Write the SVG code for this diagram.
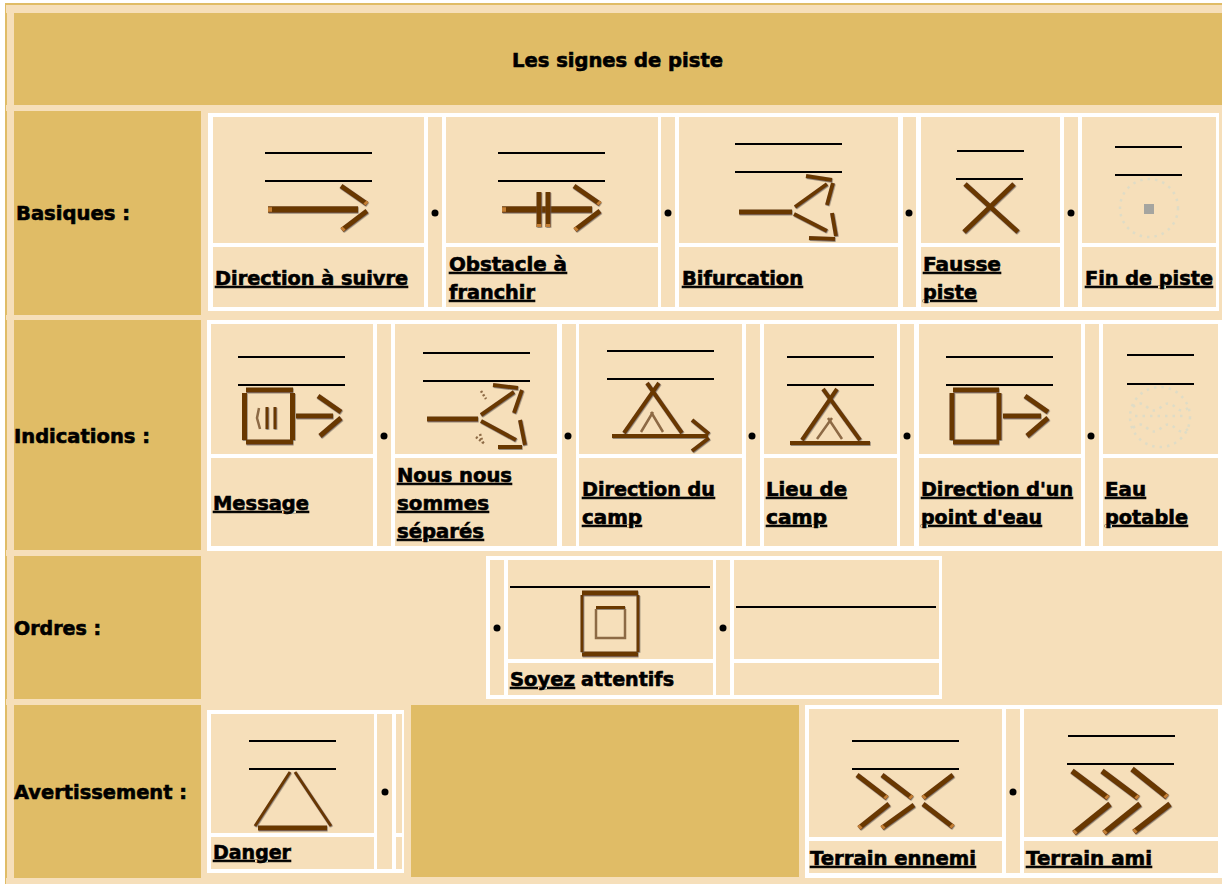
<svg xmlns="http://www.w3.org/2000/svg" width="1222" height="884" viewBox="0 0 1222 884">
<defs>
<filter id="sh" filterUnits="userSpaceOnUse" x="0" y="0" width="1222" height="884"><feDropShadow dx="0.6" dy="0.8" stdDeviation="0.5" flood-color="#6b6258" flood-opacity="0.85"/></filter>
</defs>
<style>
.bg{fill:#f6dfba}
.hd{fill:#e0bc66}
.w{fill:#fff}
.c{fill:#f6dfba}
.t{font-family:"DejaVu Sans",sans-serif;font-weight:bold;font-size:19px;fill:#000;stroke:#000;stroke-width:.6}
.l{text-decoration:underline}
.r{stroke:#000;stroke-width:2;fill:none}
.k{stroke:#693806;stroke-width:5;fill:none;stroke-linecap:butt;filter:url(#sh)}
.k6{stroke-width:6.500}
.k3{stroke-width:4}
.k2{stroke-width:3}
.p{stroke:#8d6a45;stroke-width:2.500;fill:none}
.o{stroke:#c47f35;stroke-width:4.500;fill:none}
.d{fill:#000}
.dot{fill:none;stroke:#dfdcc6;stroke-width:2.500;stroke-dasharray:2.500 5}
</style>
<rect class="w" width="1222" height="884"/>
<rect class="hd" x="5" y="3" width="1217" height="881"/>
<rect class="bg" x="7" y="5" width="1215" height="879"/>
<path class="bg" d="M6 5h2v8h-2zM6 105h2v6h-2zM6 315h2v5h-2zM6 550h2v6h-2zM6 699h2v6h-2zM6 878h2v6h-2z"/>
<g id="titre"><rect class="hd" x="14" y="13" width="1208" height="92"/><text class="t" x="512" y="67" textLength="211" lengthAdjust="spacingAndGlyphs">Les signes de piste</text></g>
<g id="basiques-tete"><rect class="hd" x="14" y="111" width="187" height="204"/><text class="t" x="16" y="220" textLength="114" lengthAdjust="spacingAndGlyphs">Basiques :</text></g>
<g id="indications-tete"><rect class="hd" x="14" y="320" width="187" height="230"/><text class="t" x="14" y="443" textLength="136" lengthAdjust="spacingAndGlyphs">Indications :</text></g>
<g id="ordres-tete"><rect class="hd" x="14" y="556" width="187" height="143"/><text class="t" x="14" y="635" textLength="87" lengthAdjust="spacingAndGlyphs">Ordres :</text></g>
<g id="avertissement-tete"><rect class="hd" x="14" y="705" width="187" height="173"/><text class="t" x="14" y="799" textLength="173" lengthAdjust="spacingAndGlyphs">Avertissement :</text></g>
<g id="centre-avertissement"><rect class="hd" x="411" y="705" width="388" height="172"/></g>

<g id="tables">
<rect class="w" x="208" y="113" width="1011" height="198"/>
<path class="c" d="M213 117h211v126h-211zM213 247h211v60h-211zM428 117h14v190h-14zM446 117h212v126h-212zM446 247h212v60h-212zM661 117h14v190h-14zM679 117h219v126h-219zM679 247h219v60h-219zM903 117h13v190h-13zM921 117h139v126h-139zM921 247h139v60h-139zM1064 117h14v190h-14zM1082 117h134v126h-134zM1082 247h134v60h-134z"/>
<rect class="w" x="207" y="320" width="1015" height="231"/>
<path class="c" d="M211 324h162v130h-162zM211 458h162v88h-162zM377 324h14v222h-14zM395 324h162v130h-162zM395 458h162v88h-162zM562 324h14v222h-14zM579 324h163v130h-163zM579 458h163v88h-163zM746 324h14v222h-14zM764 324h133v130h-133zM764 458h133v88h-133zM900 324h14v222h-14zM919 324h162v130h-162zM919 458h162v88h-162zM1085 324h14v222h-14zM1103 324h115v130h-115zM1103 458h115v88h-115z"/>
<rect class="w" x="486" y="556" width="456" height="143"/>
<path class="c" d="M490 560h14v135h-14zM508 560h205v99h-205zM508 663h205v32h-205zM716 560h14v135h-14zM734 560h205v99h-205zM734 663h205v32h-205z"/>
<rect class="w" x="207" y="710" width="197" height="163"/>
<path class="c" d="M211 714h163v119h-163zM211 837h163v32h-163zM377 714h15v155h-15zM396 714h6v119h-6zM396 837h6v32h-6z"/>
<rect class="w" x="805" y="705" width="417" height="173"/>
<path class="c" d="M809 709h193v128h-193zM809 841h193v32h-193zM1006 709h14v164h-14zM1024 709h194v128h-194zM1024 841h194v32h-194z"/>
</g>

<g id="direction-a-suivre">
<path class="r" d="M265 153h107M265 181h107"/>
<path class="k k6" d="M268 209.500H358"/><path class="k" d="M341 186L367 204M367 211L342 230"/>
<path class="o" d="M268 209.500h4M367 204l-2 -2M342 230l2 -2"/>
<text class="t l" x="215" y="285" textLength="193" lengthAdjust="spacingAndGlyphs">Direction à suivre</text></g>
<g id="obstacle">
<path class="r" d="M498 153h107M498 181h107"/>
<path class="k k6" d="M502 209.500H592"/><path class="k" d="M539 192V227M548 192V227M574 186L600 204M600 211L575 230"/>
<path class="o" d="M502 209.500h4M600 204l-2 -2M575 230l2 -2M539 227v-3M548 227v-3"/>
<text class="t l" x="449" y="271" textLength="118" lengthAdjust="spacingAndGlyphs">Obstacle à</text>
<text class="t l" x="449" y="299" textLength="86" lengthAdjust="spacingAndGlyphs">franchir</text></g>
<g id="bifurcation">
<path class="r" d="M735 144h107M735 172h107"/>
<path class="k" d="M739 212H792"/><path class="k k3" d="M795 207L827 184M806 176L832 180M833 183L827 205M794 214L827 231M832 213L836 236M809 238L835 239"/>
<text class="t l" x="682" y="285" textLength="121" lengthAdjust="spacingAndGlyphs">Bifurcation</text></g>
<g id="fausse-piste">
<path class="r" d="M957 151h67M956 179h67"/>
<path class="k" d="M965 184L1018 232M1014 184L964 232"/>
<text class="t l" x="923" y="271" textLength="78" lengthAdjust="spacingAndGlyphs">Fausse</text>
<text class="t l" x="923" y="299" textLength="54" lengthAdjust="spacingAndGlyphs">piste</text></g>
<g id="fin-de-piste">
<path class="r" d="M1115 147h67M1115 175h67"/>
<circle class="dot" cx="1149" cy="208" r="29"/><rect x="1144" y="204" width="10" height="10" fill="#a5a5a0"/>
<text class="t l" x="1085" y="285" textLength="128" lengthAdjust="spacingAndGlyphs">Fin de piste</text></g>

<g id="message">
<path class="r" d="M238 357h107M238 385h107"/>
<path class="k" d="M246 390H293M246 442H293M244.500 393V440M292.500 393V440"/>
<path class="p" d="M259 408L257 418L260 429"/><path class="k k2" d="M267 407V429M275 407V429"/>
<path class="k" d="M296 416H333M318 396L341 412M341 418L320 436"/>
<text class="t l" x="213" y="510" textLength="96" lengthAdjust="spacingAndGlyphs">Message</text></g>
<g id="separes">
<path class="r" d="M423 353h107M423 381h107"/>
<path class="k" d="M427 419H478"/><path class="k k3" d="M481 415L514 392M493 385L518 388M522 390L514 413M481 421L516 440M520 420L525 445M498 447L522 447"/>
<path class="p" stroke-dasharray="2 2" d="M481 391L486 399M476 437L485 444M480 434L483 443"/>
<text class="t l" x="397" y="482" textLength="115" lengthAdjust="spacingAndGlyphs">Nous nous</text>
<text class="t l" x="397" y="510" textLength="92" lengthAdjust="spacingAndGlyphs">sommes</text>
<text class="t l" x="397" y="538" textLength="87" lengthAdjust="spacingAndGlyphs">séparés</text></g>
<g id="direction-camp">
<path class="r" d="M607 351h107M607 379h107"/>
<path class="k k3" d="M647 383L682 433M659 383L624 433M612 436H708M692 420L709 434M709 438L692 451"/>
<path class="p" d="M641 432L653 412M663 432L651 412"/>
<text class="t l" x="582" y="496" textLength="133" lengthAdjust="spacingAndGlyphs">Direction du</text>
<text class="t l" x="582" y="524" textLength="60" lengthAdjust="spacingAndGlyphs">camp</text></g>
<g id="lieu-camp">
<path class="r" d="M787 357h87M787 385h87"/>
<path class="k k3" d="M823 389L860 440M837 389L802 440M790 443H870"/>
<path class="p" d="M817 439L832 418M828 418L842 439"/>
<text class="t l" x="766" y="496" textLength="81" lengthAdjust="spacingAndGlyphs">Lieu de</text>
<text class="t l" x="766" y="524" textLength="61" lengthAdjust="spacingAndGlyphs">camp</text></g>
<g id="point-eau">
<path class="r" d="M946 357h107M946 385h107"/>
<path class="k" d="M953 390H999M953 442H999M952 393V440M999 393V440M1003 416H1041M1025 396L1048 412M1048 418L1027 436"/>
<text class="t l" x="921" y="496" textLength="152" lengthAdjust="spacingAndGlyphs">Direction d'un</text>
<text class="t l" x="921" y="524" textLength="121" lengthAdjust="spacingAndGlyphs">point d'eau</text></g>
<g id="eau-potable">
<path class="r" d="M1127 355h67M1127 384h67"/>
<circle class="dot" cx="1160" cy="417" r="30"/>
<path class="dot" d="M1133 407q7-7 14 0t14 0t14 0t14 0M1135 416h50M1133 428q7-7 14 0t14 0t14 0t14 0"/>
<text class="t l" x="1105" y="496" textLength="41" lengthAdjust="spacingAndGlyphs">Eau</text>
<text class="t l" x="1105" y="524" textLength="83" lengthAdjust="spacingAndGlyphs">potable</text></g>

<g id="soyez-attentifs">
<path class="r" d="M510 587H710"/>
<path class="k" d="M582 593H638M582 654H638"/><path class="k k2" d="M582 595V652M638 595V652"/>
<path class="k k2" d="M596 607.500H625"/><path class="p" d="M596 609V638H625V609"/>
<text class="t l" x="510" y="686" textLength="65" lengthAdjust="spacingAndGlyphs">Soyez</text>
<text class="t" x="581" y="686" textLength="93" lengthAdjust="spacingAndGlyphs">attentifs</text></g>
<g id="vide">
<path class="r" d="M736 607H936"/></g>

<g id="danger">
<path class="r" d="M249 741h87M249 769h87"/>
<path class="k k2" d="M290 772L255 826M295 772L331 826"/><path class="k" d="M258 828H327"/>
<text class="t l" x="213" y="859" textLength="78" lengthAdjust="spacingAndGlyphs">Danger</text></g>
<g id="terrain-ennemi">
<path class="r" d="M852 741h107M852 769h107"/>
<path class="k" d="M857 775L887 798M889 804L859 828M882 775L912 798M914 805L882 828M953 775L923 798M923 804L953 827"/>
<path class="o" d="M887 798l-2 -2M859 828l2 -2M912 798l-2 -2M882 828l2 -2M923 798l2 -2M953 827l-2 -2"/>
<text class="t l" x="810" y="865" textLength="166" lengthAdjust="spacingAndGlyphs">Terrain ennemi</text></g>
<g id="terrain-ami">
<path class="r" d="M1068 736h107M1067 764h107"/>
<path class="k" style="stroke-width:5.500" d="M1072 771L1108 798M1110 804L1074 833M1102 771L1138 798M1140 804L1104 833M1132 769L1167 797M1170 804L1134 832"/>
<path class="o" d="M1108 798l-2 -2M1074 833l2 -2M1138 798l-2 -2M1104 833l2 -2M1167 797l-2 -2M1134 832l2 -2"/>
<text class="t l" x="1026" y="865" textLength="126" lengthAdjust="spacingAndGlyphs">Terrain ami</text></g>

<g id="puces">
<circle class="d" cx="435" cy="213" r="3.500"/><circle class="d" cx="668" cy="213" r="3.500"/><circle class="d" cx="909" cy="213" r="3.500"/><circle class="d" cx="1071" cy="213" r="3.500"/>
<circle class="d" cx="384" cy="436" r="3.500"/><circle class="d" cx="568" cy="436" r="3.500"/><circle class="d" cx="752" cy="436" r="3.500"/><circle class="d" cx="907" cy="436" r="3.500"/><circle class="d" cx="1091" cy="436" r="3.500"/>
<circle class="d" cx="497" cy="628" r="3.500"/><circle class="d" cx="723" cy="628" r="3.500"/>
<circle class="d" cx="385" cy="792" r="3.500"/><circle class="d" cx="1013" cy="792" r="3.500"/>
</g>
</svg>
